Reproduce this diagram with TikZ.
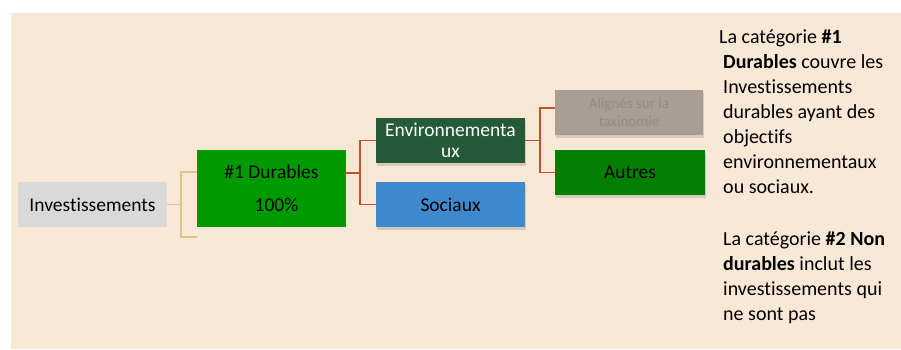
\documentclass[tikz,border=0pt]{standalone}
\usepackage{fontspec}
\setmainfont{Carlito}[Ligatures=NoCommon]
\usetikzlibrary{shadows}
\definecolor{bgpeach}{HTML}{FAE8D7}
\definecolor{invgray}{HTML}{D9D9D9}
\definecolor{durgreen}{HTML}{009A00}
\definecolor{envgreen}{HTML}{245A38}
\definecolor{socblue}{HTML}{3E8ACC}
\definecolor{aligray}{HTML}{A89E94}
\definecolor{alitext}{HTML}{968B82}
\definecolor{autgreen}{HTML}{007F00}
\definecolor{tanline}{HTML}{D6C88A}
\definecolor{redline}{HTML}{C4502F}
\begin{document}
\begin{tikzpicture}[x=1pt,y=-1pt,
  box/.style={inner sep=0pt, minimum width=149pt, minimum height=45pt,
    font=\fontsize{19.5}{21}\selectfont, align=center},
  shad/.style={drop shadow={opacity=0.3, shadow xshift=1pt, shadow yshift=-3pt}},
  tanconn/.style={draw=tanline, line width=1.3pt},
  redconn/.style={draw=redline, line width=1.5pt}]
\useasboundingbox (0,0) rectangle (901,349);
\fill[bgpeach] (11,13) rectangle (901,349);

\node[box, fill=invgray] (inv) at (92.5,204.5) {Investissements};
\node[box, fill=durgreen, minimum height=77pt] (dur) at (271.5,188.5)
  {\#1 Durables\\[12pt]\hspace*{10pt}100\%};
\node[box, fill=envgreen, text=white, shad] (env) at (450.5,140.5)
  {Environnementa\\ux};
\node[box, fill=socblue, text=black, shad] (soc) at (450.5,204.5) {Sociaux};
\node[box, fill=aligray, text=alitext, minimum width=148pt, shad,
  font=\fontsize{15}{18}\selectfont] (ali) at (629,112.5) {Alignés sur la\\taxinomie};
\node[box, fill=autgreen, text=black, minimum width=150pt, shad] (aut) at (630,172.5) {Autres};

% tan connector
\coordinate (j1) at (181,204.5);
\coordinate (t1) at (197,172);
\coordinate (nd) at (197,237);
\coordinate (t1b) at (181,172);
\coordinate (ndb) at (181,237);
\draw[tanconn] (inv.east) -- (j1);
\draw[tanconn] (t1) -- (t1b) -- (ndb) -- (nd);

% red connector 1
\coordinate (d1) at (346,173);
\coordinate (j2) at (360,173);
\coordinate (j2a) at (360,140.5);
\coordinate (j2b) at (360,204.5);
\draw[redconn] (d1) -- (j2);
\draw[redconn] (env.west) -- (j2a) -- (j2b) -- (soc.west);

% red connector 2
\coordinate (j3) at (540,140.5);
\coordinate (a1) at (555,108);
\coordinate (j3a) at (540,108);
\coordinate (j3b) at (540,172.5);
\draw[redconn] (env.east) -- (j3);
\draw[redconn] (a1) -- (j3a) -- (j3b) -- (aut.west);

% right text
\node[anchor=base west, inner sep=0pt, font=\fontsize{20}{25}\selectfont] (txt) at (723,43)
{\parbox[t]{180pt}{\raggedright
\hspace*{-4pt}La catégorie \textbf{\#1}\\
\textbf{Durables} couvre les\\
Investissements\\
durables ayant des\\
objectifs\\
environnementaux\\
ou sociaux.\\[27pt]
La catégorie \textbf{\#2 Non}\\
\textbf{durables} inclut les\\
investissements qui\\
ne sont pas}};
\end{tikzpicture}
\end{document}
